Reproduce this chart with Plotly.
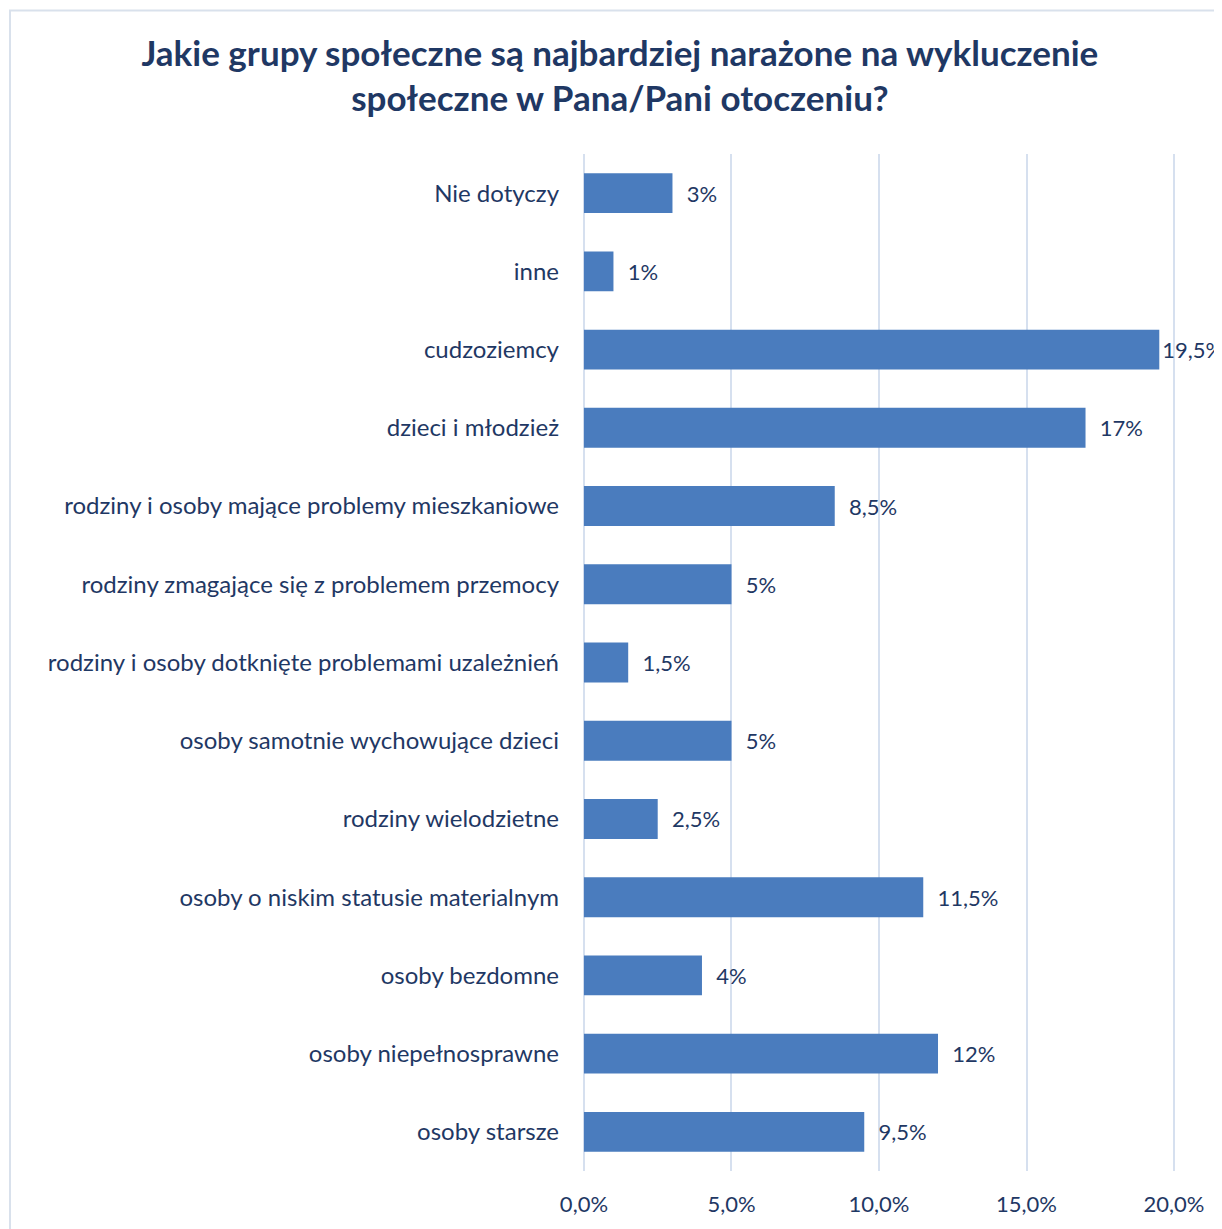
import plotly.graph_objects as go

categories = [
    "Nie dotyczy",
    "inne",
    "cudzoziemcy",
    "dzieci i młodzież",
    "rodziny i osoby mające problemy mieszkaniowe",
    "rodziny zmagające się z problemem przemocy",
    "rodziny i osoby dotknięte problemami uzależnień",
    "osoby samotnie wychowujące dzieci",
    "rodziny wielodzietne",
    "osoby o niskim statusie materialnym",
    "osoby bezdomne",
    "osoby niepełnosprawne",
    "osoby starsze",
]
values = [3, 1, 19.5, 17, 8.5, 5, 1.5, 5, 2.5, 11.5, 4, 12, 9.5]
tick_values = [0, 5, 10, 15, 20]
tick_labels = [f"{v:.1f}".replace(".", ",") + "%" for v in tick_values]

title_text = ("Jakie grupy społeczne są najbardziej narażone na wykluczenie<br>"
              "społeczne w Pana/Pani otoczeniu?")

# labels near the right edge get no extra pad (as in the original)
labels = [("" if v >= 19 else "\u00a0\u00a0") + (f"{v:g}".replace(".", ",")) + "%"
          for v in values]

# page has an 8px body margin
W, H = 1214, 1221
ML, MR, MT, MB = 573, 45, 146, 55
TXT = "#1f3864"
FONT = "Lato"

fig = go.Figure(
    go.Bar(
        x=values,
        y=categories,
        orientation="h",
        marker=dict(color="#4a7cbe", line=dict(width=0)),
        text=labels,
        textposition="outside",
        cliponaxis=False,
        textfont=dict(family=FONT, size=22, color=TXT),
        width=0.51,
    )
)

pw = W - ML - MR
ph = H - MT - MB
def px_to_paper_x(px):
    return (px - ML) / pw
def px_to_paper_y(py):
    return (H - MB - py) / ph

fig.add_shape(
    type="rect", xref="paper", yref="paper",
    x0=px_to_paper_x(2), x1=px_to_paper_x(1260),
    y0=px_to_paper_y(1260), y1=px_to_paper_y(2),
    line=dict(color="#d9e1ec", width=2), fillcolor="rgba(0,0,0,0)", layer="below",
)

fig.update_layout(
    width=W, height=H,
    margin=dict(l=ML, r=MR, t=MT, b=MB),
    paper_bgcolor="white", plot_bgcolor="white",
    showlegend=False,
    title=dict(
        text=title_text,
        x=0.504, xref="container", xanchor="center",
        y=1 - 57.5 / H, yref="container", yanchor="middle",
        font=dict(family=FONT, size=35, color=TXT, weight="bold"),
    ),
    xaxis=dict(
        range=[-0.1, 20.1],
        tickvals=tick_values,
        ticktext=tick_labels,
        showgrid=True, gridcolor="#d6e0ef", gridwidth=2,
        zeroline=False, showline=False,
        ticks="", ticklabelstandoff=18,
        tickfont=dict(family=FONT, size=22, color=TXT),
    ),
    yaxis=dict(
        categoryorder="array", categoryarray=categories,
        autorange="reversed",
        showgrid=False, zeroline=False, showline=False,
        ticks="", ticklabelstandoff=21,
        tickfont=dict(family=FONT, size=24, color=TXT),
    ),
)

fig.write_html("out.html")
